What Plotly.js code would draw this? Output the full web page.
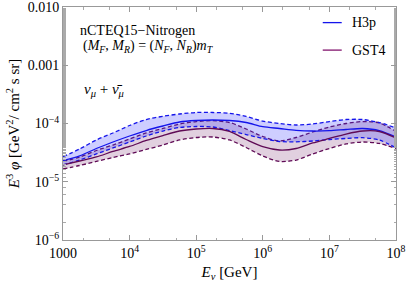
<!DOCTYPE html>
<html><head><meta charset="utf-8">
<script src="https://cdn.plot.ly/plotly-3.0.1.min.js"></script>
<style>html,body{margin:0;padding:0;background:#fff}#c{width:407px;height:285px}</style>
</head><body><div id="c"></div>
<script>
const logE = [3, 3.25, 3.5, 3.75, 4, 4.25, 4.5, 4.75, 5, 5.25, 5.5, 5.75, 6, 6.25, 6.5, 6.75, 7, 7.25, 7.5, 7.75, 8];
const h3pUpper = [2.69e-5, 3.65e-5, 5.21e-5, 6.87e-5, 9.24e-5, 1.171e-4, 1.33e-4, 1.456e-4, 1.545e-4, 1.545e-4, 1.50e-4, 1.32e-4, 1.10e-4, 1.0e-4, 9.42e-5, 9.80e-5, 1.08e-4, 1.171e-4, 1.171e-4, 1.04e-4, 8.37e-5];
const h3pCentral = [2.30e-5, 2.77e-5, 3.72e-5, 4.81e-5, 6.10e-5, 7.58e-5, 9.06e-5, 1.061e-4, 1.126e-4, 1.148e-4, 1.126e-4, 1.040e-4, 8.81e-5, 8.21e-5, 7.64e-5, 7.43e-5, 7.52e-5, 7.89e-5, 8.21e-5, 7.58e-5, 5.86e-5];
const h3pLower = [1.94e-5, 2.36e-5, 3.00e-5, 3.80e-5, 4.81e-5, 6.10e-5, 7.43e-5, 8.54e-5, 8.88e-5, 8.71e-5, 7.58e-5, 6.47e-5, 5.53e-5, 4.91e-5, 4.85e-5, 5.01e-5, 5.31e-5, 5.53e-5, 5.70e-5, 5.21e-5, 3.80e-5];
const gstUpper = [2.23e-5, 2.66e-5, 3.44e-5, 4.27e-5, 5.42e-5, 6.87e-5, 8.21e-5, 9.80e-5, 1.08e-4, 1.117e-4, 1.04e-4, 8.05e-5, 5.98e-5, 5.01e-5, 5.75e-5, 7.15e-5, 8.71e-5, 1.0e-4, 1.08e-4, 1.02e-4, 7.29e-5];
const gstCentral = [1.94e-5, 2.27e-5, 2.66e-5, 3.31e-5, 4.03e-5, 5.11e-5, 6.22e-5, 7.43e-5, 8.05e-5, 8.21e-5, 7.29e-5, 5.31e-5, 4.00e-5, 3.51e-5, 3.72e-5, 4.63e-5, 5.53e-5, 6.60e-5, 7.43e-5, 7.29e-5, 5.64e-5];
const gstLower = [1.66e-5, 1.90e-5, 2.23e-5, 2.61e-5, 3.00e-5, 3.58e-5, 4.27e-5, 5.21e-5, 5.75e-5, 5.86e-5, 5.21e-5, 3.87e-5, 2.77e-5, 2.23e-5, 2.36e-5, 3.00e-5, 3.72e-5, 4.45e-5, 4.81e-5, 4.54e-5, 3.72e-5];
const xTickVals = [1e3, 1e4, 1e5, 1e6, 1e7, 1e8];
const xTickText = ['1000', '10<sup>4</sup>', '10<sup>5</sup>', '10<sup>6</sup>', '10<sup>7</sup>', '10<sup>8</sup>'];
const yTickVals = [1e-6, 1e-5, 1e-4, 1e-3, 1e-2];
const yTickText = ['10<sup>−6</sup>', '10<sup>−5</sup>', '10<sup>−4</sup>', '0.001', '0.010'];

const E = logE.map(v => Math.pow(10, v));
const blue = 'rgb(20,20,235)';
const purple = 'rgb(95,10,85)';
const bandBlue = 'rgba(60,60,255,0.25)';
const bandPurple = 'rgba(120,40,110,0.22)';
function tr(y, color, dash, fill, fillcolor) {
  return {x: E, y: y, type: 'scatter', mode: 'lines',
    line: {color: color, width: 1.3, dash: dash, shape: 'spline', smoothing: 0.8},
    fill: fill || 'none', fillcolor: fillcolor, showlegend: false, hoverinfo: 'skip'};
}
const DASH = '4px,2.5px';
const data = [
  tr(gstLower, purple, DASH),
  tr(gstUpper, purple, DASH, 'tonexty', bandPurple),
  tr(h3pLower, blue, DASH),
  tr(h3pUpper, blue, DASH, 'tonexty', bandBlue),
  tr(h3pCentral, blue, 'solid'),
  tr(gstCentral, purple, 'solid')
];
const FAM = 'Liberation Serif';
const font = {family: FAM, size: 14, color: '#000'};
const titleFont = {family: FAM, size: 15, color: '#000'};
const axisCommon = {type: 'log', showgrid: false, zeroline: false, showline: true, linecolor: '#999', linewidth: 1,
  mirror: 'ticks', ticks: 'inside', ticklen: 5, tickcolor: '#999',
  minor: {ticks: 'inside', ticklen: 2.5, tickcolor: '#aaa', showgrid: false}, tickfont: font};
const layout = {
  width: 407, height: 285, margin: {l: 63, r: 11, t: 7, b: 45},
  paper_bgcolor: '#fff', plot_bgcolor: '#fff', font: font,
  xaxis: Object.assign({}, axisCommon, {range: [3, 8.0005], tickmode: 'array', tickvals: xTickVals, ticktext: xTickText,
    title: {text: '<i>E<sub>ν</sub></i> [GeV]', font: titleFont, standoff: 6}}),
  yaxis: Object.assign({}, axisCommon, {range: [-6.0005, -1.9995], tickmode: 'array', tickvals: yTickVals, ticktext: yTickText,
    ticklabeloverflow: 'allow',
    title: {text: '<i>E</i><sup>3</sup> <i>φ</i> [GeV<sup>2</sup>/ cm<sup>2</sup> s sr]', font: titleFont, standoff: 4}}),
  showlegend: false,
  shapes: [
    {type: 'line', xref: 'paper', yref: 'paper', x0: 0.78, x1: 0.837, y0: 0.933, y1: 0.933, line: {color: blue, width: 1.3}},
    {type: 'line', xref: 'paper', yref: 'paper', x0: 0.78, x1: 0.837, y0: 0.815, y1: 0.815, line: {color: 'rgb(130,20,110)', width: 1.3}}
  ],
  annotations: [
    {xref: 'paper', yref: 'paper', x: 0.862, y: 0.933, xanchor: 'left', yanchor: 'middle', showarrow: false, text: 'H3p', font: font},
    {xref: 'paper', yref: 'paper', x: 0.862, y: 0.815, xanchor: 'left', yanchor: 'middle', showarrow: false, text: 'GST4', font: font},
    {xref: 'paper', yref: 'paper', x: 0.044, y: 0.901, xanchor: 'left', yanchor: 'middle', showarrow: false, text: 'nCTEQ15−Nitrogen', font: font},
    {xref: 'paper', yref: 'paper', x: 0.053, y: 0.83, xanchor: 'left', yanchor: 'middle', showarrow: false,
      text: '(<i>M<sub>F</sub></i>, <i>M<sub>R</sub></i>) = (<i>N<sub>F</sub></i>, <i>N<sub>R</sub></i>)<i>m<sub>T</sub></i>', font: font},
    {xref: 'paper', yref: 'paper', x: 0.058, y: 0.644, xanchor: 'left', yanchor: 'middle', showarrow: false,
      text: '<i>ν<sub>μ</sub></i> + <i>ν̄<sub>μ</sub></i>', font: {family: FAM, size: 15, color: '#000'}}
  ]
};
Plotly.newPlot('c', data, layout, {displayModeBar: false, staticPlot: true});
</script></body></html>
